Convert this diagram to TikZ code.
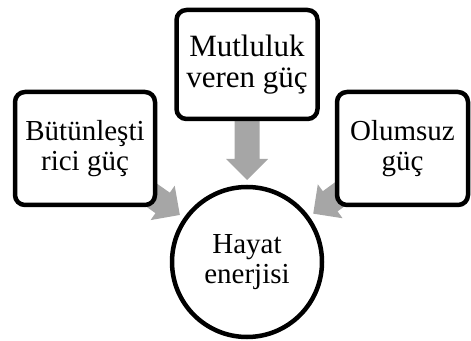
\documentclass[tikz,border=0pt]{standalone}
\usepackage{fontspec}
\setmainfont{Liberation Serif}
\usetikzlibrary{calc,backgrounds}
\definecolor{arrowgray}{RGB}{166,166,166}
\tikzset{
  box/.style={draw=black, line width=4.5pt, rounded corners=10pt, fill=white,
    align=center, inner sep=0pt, font=\fontsize{29}{30}\selectfont},
  hub/.style={circle, draw=black, line width=4.5pt, fill=white, align=center,
    minimum size=150pt, inner sep=0pt, font=\fontsize{29}{30}\selectfont},
  blockfill/.style={fill=arrowgray, draw=none},
}
% #1 = source node, #2 = target node
\newcommand{\blockarrow}[2]{%
  \coordinate (ba-tip) at ($(#2.center)!82pt!(#1.center)$);
  \coordinate (ba-hb) at ($(ba-tip)!21pt!(#1.center)$);
  \coordinate (ba-hl) at ($(ba-hb)!21pt!90:(#1.center)$);
  \coordinate (ba-hr) at ($(ba-hb)!21pt!-90:(#1.center)$);
  \coordinate (ba-sl) at ($(ba-hb)!12.5pt!90:(#1.center)$);
  \coordinate (ba-sr) at ($(ba-hb)!12.5pt!-90:(#1.center)$);
  \coordinate (ba-tl) at ($(#1.center)!12.5pt!-90:(ba-hb)$);
  \coordinate (ba-tr) at ($(#1.center)!12.5pt!90:(ba-hb)$);
  \fill[blockfill] (ba-tip) -- (ba-hl) -- (ba-sl) -- (ba-tl) -- (ba-tr) -- (ba-sr) -- (ba-hr) -- cycle;
}
\begin{document}
\begin{tikzpicture}[x=1pt, y=1pt]
  \useasboundingbox (0,0) rectangle (471,340);
  \node[box, minimum width=141pt, minimum height=109pt,
        font=\fontsize{31}{31}\selectfont] (top) at (247,275.5) {Mutluluk\\veren güç};
  \node[box, minimum width=140pt, minimum height=113pt] (left) at (85,191.5) {Bütünleşti\\rici güç};
  \node[box, minimum width=131pt, minimum height=113pt] (right) at (402.5,191.5) {Olumsuz\\güç};
  \node[hub] (hub) at (247,78) {Hayat\\enerjisi};
  \begin{scope}[on background layer]
    \blockarrow{top}{hub}
    \blockarrow{left}{hub}
    \blockarrow{right}{hub}
  \end{scope}
\end{tikzpicture}
\end{document}
